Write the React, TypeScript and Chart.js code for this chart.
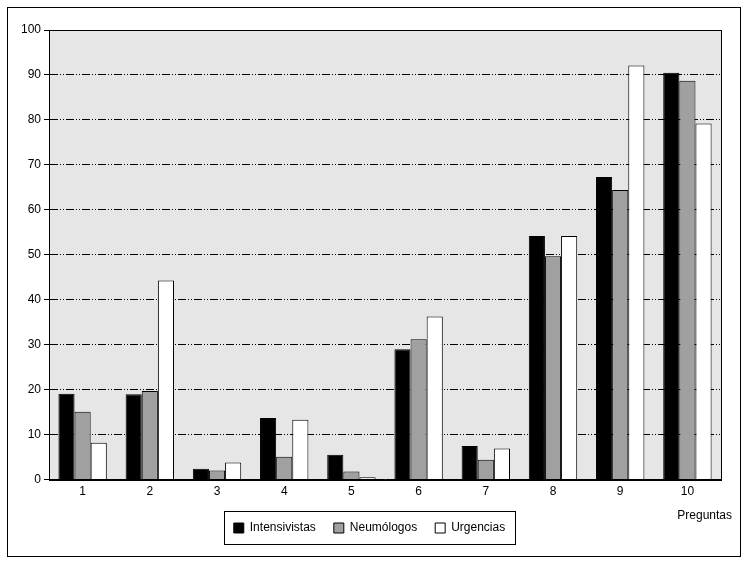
import React, { useEffect, useRef } from "react";
import { Chart, registerables } from "chart.js";

Chart.register(...registerables);

const categories = ["1", "2", "3", "4", "5", "6", "7", "8", "9", "10"];
const intensivistas = [19.1, 19.0, 2.4, 13.7, 5.5, 29.0, 7.5, 54.2, 67.3, 90.5];
const neumologos = [15.1, 19.7, 2.0, 5.1, 1.8, 31.2, 4.4, 49.7, 64.4, 88.7];
const urgencias = [8.2, 44.3, 3.8, 13.3, 0.5, 36.3, 6.9, 54.2, 92.1, 79.2];
const yTicks = [0, 10, 20, 30, 40, 50, 60, 70, 80, 90, 100];
const xTitle = "Preguntas";

const FONT = "'Liberation Sans', Arial, Helvetica, sans-serif";

const framePlugin = {
  id: "framePlugin",
  beforeDraw(chart: any) {
    const { ctx, chartArea } = chart;
    ctx.save();
    ctx.fillStyle = "#e6e6e6";
    ctx.fillRect(chartArea.left, chartArea.top, chartArea.right - chartArea.left, chartArea.bottom - chartArea.top);
    ctx.restore();
  },
  afterDraw(chart: any) {
    const { ctx, chartArea } = chart;
    ctx.save();
    ctx.strokeStyle = "#000";
    ctx.lineWidth = 1;
    ctx.setLineDash([]);
    ctx.strokeRect(
      Math.round(chartArea.left) + 0.5,
      Math.round(chartArea.top) + 0.5,
      Math.round(chartArea.right - chartArea.left),
      Math.round(chartArea.bottom - chartArea.top)
    );
    const xs = chart.scales.x;
    ctx.fillStyle = "#000";
    ctx.font = "12px " + FONT;
    ctx.textAlign = "right";
    ctx.textBaseline = "middle";
    ctx.fillText(xTitle, chartArea.right + 11, xs.bottom + 12);
    const lg = chart.legend;
    if (lg && lg.legendHitBoxes && lg.legendHitBoxes.length) {
      const boxes = lg.legendHitBoxes;
      let l = Infinity, r = -Infinity, t = Infinity, b = -Infinity;
      for (const h of boxes) {
        l = Math.min(l, h.left);
        r = Math.max(r, h.left + h.width);
        t = Math.min(t, h.top);
        b = Math.max(b, h.top + h.height);
      }
      ctx.strokeRect(Math.round(l - 10) + 0.5, Math.round(t - 11) + 0.5, Math.round(r - l + 20), Math.round(b - t + 21));
    }
    ctx.restore();
  },
};

export default function App() {
  const ref = useRef<HTMLCanvasElement | null>(null);
  useEffect(() => {
    if (!ref.current) return;
    const chart = new Chart(ref.current, {
      type: "bar",
      data: {
        labels: categories,
        datasets: [
          { label: "Intensivistas", data: intensivistas, backgroundColor: "#000000", borderColor: "#000000", borderWidth: 1 },
          { label: "Neumólogos", data: neumologos, backgroundColor: "#a0a0a0", borderColor: "#000000", borderWidth: 1 },
          { label: "Urgencias", data: urgencias, backgroundColor: "#ffffff", borderColor: "#000000", borderWidth: 1 },
        ],
      },
      options: {
        responsive: false,
        animation: false,
        devicePixelRatio: 1,
        layout: { padding: { left: 10, right: 19, top: 22, bottom: 12 } },
        datasets: { bar: { categoryPercentage: 0.72, barPercentage: 1 } },
        plugins: {
          tooltip: { enabled: false },
          legend: {
            position: "bottom",
            labels: {
              color: "#000",
              font: { family: FONT, size: 12 },
              boxWidth: 10,
              boxHeight: 10,
              padding: 18,
              useBorderRadius: false,
            },
          },
        },
        scales: {
          x: {
            grid: { display: false, drawTicks: false },
            border: { display: true, color: "#000", width: 1 },
            ticks: { color: "#000", font: { family: FONT, size: 12 }, padding: 5 },
          },
          y: {
            min: 0,
            max: 100,
            afterBuildTicks(scale: any) {
              scale.ticks = yTicks.map((v) => ({ value: v }));
            },
            grid: { color: "#000", lineWidth: 1, drawTicks: true, tickLength: 5, tickColor: "#000" },
            border: { display: true, color: "#000", width: 1, dash: [8, 2, 1, 2, 1, 2] },
            ticks: { color: "#000", font: { family: FONT, size: 12 }, padding: 3 },
          },
        },
      },
      plugins: [framePlugin],
    } as any);
    return () => chart.destroy();
  }, []);
  return (
    <div
      style={{
        position: "absolute",
        left: 7,
        top: 7,
        width: 734,
        height: 550,
        border: "1px solid #000",
        boxSizing: "border-box",
        background: "#fff",
      }}
    >
      <canvas ref={ref} width={732} height={548} style={{ display: "block" }} />
    </div>
  );
}
